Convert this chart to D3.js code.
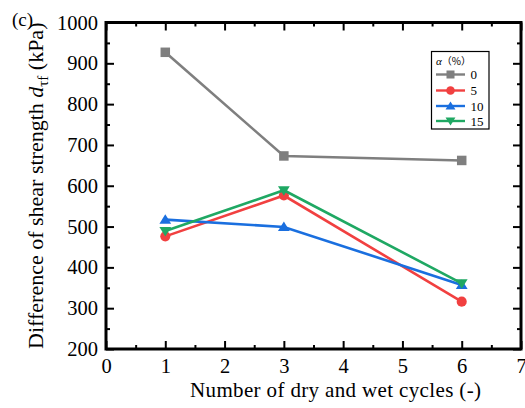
<!DOCTYPE html>
<html>
<head>
<meta charset="utf-8">
<script src="https://cdn.jsdelivr.net/npm/d3@7"></script>
<style>
  html, body { margin: 0; padding: 0; background: #fff; }
  svg text { font-family: 'Liberation Serif', 'Times New Roman', serif; }
</style>
</head>
<body>
<svg id="chart" width="525" height="408"></svg>
<script>
// Dry-wet cycle counts and shear strength differences (kPa) for each alpha content
const cycles = [1, 3, 6];
const seriesNames = ["0", "5", "10", "15"];
const alpha0 = [927, 673, 662];
const alpha5 = [476, 576, 316];
const alpha10 = [517, 499, 357];
const alpha15 = [489, 589, 361];
const xTicks = [0, 1, 2, 3, 4, 5, 6, 7];
const yTicks = [200, 300, 400, 500, 600, 700, 800, 900, 1000];

const colors = ["#7f7f7f", "#f14040", "#1a6fdf", "#1fa863"];
const symbols = ["square", "circle", "triangleUp", "triangleDown"];
const seriesValues = [alpha0, alpha5, alpha10, alpha15];

const svg = d3.select("#chart");
const plotL = 106, plotR = 521, plotT = 22.5, plotB = 349;

const x = d3.scaleLinear().domain([0, 7]).range([plotL, plotR]);
const y = d3.scaleLinear().domain([200, 1000]).range([plotB, plotT]);

const minorX = d3.range(0.5, 7, 1);
const minorY = d3.range(250, 1000, 100);

// Axes: labelled left/bottom, plain mirrored top/right, all ticks pointing inward
function styleAxis(g) {
  g.attr("font-family", null);
  g.selectAll("path.domain").remove();
  g.selectAll(".tick line").attr("stroke", "#000").attr("stroke-width", 2);
  g.selectAll(".tick text").attr("fill", "#000").attr("font-size", 20.5);
}

svg.append("g").attr("transform", `translate(0,${plotB})`)
  .call(d3.axisBottom(x).tickValues(xTicks).tickFormat(d3.format("d")).tickSizeInner(-8).tickPadding(9).tickSizeOuter(0))
  .call(styleAxis);
svg.append("g").attr("transform", `translate(0,${plotB})`)
  .call(d3.axisBottom(x).tickValues(minorX).tickFormat("").tickSizeInner(-4).tickSizeOuter(0))
  .call(styleAxis);
svg.append("g").attr("transform", `translate(${plotL},0)`)
  .call(d3.axisLeft(y).tickValues(yTicks).tickFormat(d3.format("d")).tickSizeInner(-8).tickPadding(8).tickSizeOuter(0))
  .call(styleAxis);
svg.append("g").attr("transform", `translate(${plotL},0)`)
  .call(d3.axisLeft(y).tickValues(minorY).tickFormat("").tickSizeInner(-4).tickSizeOuter(0))
  .call(styleAxis);
svg.append("g").attr("transform", `translate(0,${plotT})`)
  .call(d3.axisTop(x).tickValues(xTicks).tickFormat("").tickSizeInner(-8).tickSizeOuter(0))
  .call(styleAxis);
svg.append("g").attr("transform", `translate(0,${plotT})`)
  .call(d3.axisTop(x).tickValues(minorX).tickFormat("").tickSizeInner(-4).tickSizeOuter(0))
  .call(styleAxis);
svg.append("g").attr("transform", `translate(${plotR},0)`)
  .call(d3.axisRight(y).tickValues(yTicks).tickFormat("").tickSizeInner(-8).tickSizeOuter(0))
  .call(styleAxis);
svg.append("g").attr("transform", `translate(${plotR},0)`)
  .call(d3.axisRight(y).tickValues(minorY).tickFormat("").tickSizeInner(-4).tickSizeOuter(0))
  .call(styleAxis);

// Frame
svg.append("rect").attr("x", plotL).attr("y", plotT)
  .attr("width", plotR - plotL).attr("height", plotB - plotT)
  .attr("fill", "none").attr("stroke", "#000").attr("stroke-width", 3);

// Marker shapes
function marker(sel, kind, size, color) {
  if (kind === "square") {
    sel.append("rect").attr("x", -size / 2).attr("y", -size / 2)
      .attr("width", size).attr("height", size).attr("fill", color);
  } else if (kind === "circle") {
    sel.append("circle").attr("r", size / 2 + 0.3).attr("fill", color);
  } else if (kind === "triangleUp") {
    const h = size * 0.95, w = size * 0.62;
    sel.append("path").attr("d", `M0,${-h * 0.6}L${w},${h * 0.45}L${-w},${h * 0.45}Z`).attr("fill", color);
  } else {
    const h = size * 0.95, w = size * 0.62;
    sel.append("path").attr("d", `M0,${h * 0.6}L${w},${-h * 0.45}L${-w},${-h * 0.45}Z`).attr("fill", color);
  }
}

const line = d3.line().x(d => x(d[0])).y(d => y(d[1]));

seriesValues.forEach((vals, i) => {
  const pts = cycles.map((c, j) => [c, vals[j]]);
  svg.append("path").datum(pts).attr("d", line)
    .attr("fill", "none").attr("stroke", colors[i]).attr("stroke-width", 2.6);
  pts.forEach(p => {
    const g = svg.append("g").attr("transform", `translate(${x(p[0])},${y(p[1])})`);
    marker(g, symbols[i], 9.5, colors[i]);
  });
});

// Legend
const lg = svg.append("g");
lg.append("rect").attr("x", 431.5).attr("y", 51.5).attr("width", 57.5).attr("height", 77.5)
  .attr("fill", "#fff").attr("stroke", "#000").attr("stroke-width", 1.2);
const title = lg.append("text").attr("x", 436).attr("y", 65).attr("font-size", 11);
title.append("tspan").attr("font-style", "italic").text("α");
title.append("tspan").style("font-family", "'Noto Sans CJK SC', sans-serif").attr("font-size", 10).text("（%）");
const rowY = [74.5, 90.5, 106, 121];
seriesNames.forEach((name, i) => {
  lg.append("line").attr("x1", 436).attr("x2", 465).attr("y1", rowY[i]).attr("y2", rowY[i])
    .attr("stroke", colors[i]).attr("stroke-width", 2.4);
  const g = lg.append("g").attr("transform", `translate(450.5,${rowY[i]})`);
  marker(g, symbols[i], 8, colors[i]);
  lg.append("text").attr("x", 470.5).attr("y", rowY[i] + 4.5).attr("font-size", 13).text(name);
});

// Axis titles and panel tag
svg.append("text").attr("x", 190).attr("y", 397)
  .attr("font-size", 21).attr("textLength", 291).attr("lengthAdjust", "spacing")
  .text("Number of dry and wet cycles (-)");

const yl = svg.append("text")
  .attr("transform", `translate(43,${(plotT + plotB) / 2}) rotate(-90)`)
  .attr("text-anchor", "middle").attr("font-size", 22);
yl.append("tspan").text("Difference of shear strength ");
yl.append("tspan").attr("font-style", "italic").text("d");
yl.append("tspan").attr("font-size", 15).attr("dy", 5).text("τf");
yl.append("tspan").attr("dy", -5).text(" (kPa)");

svg.append("text").attr("x", 12).attr("y", 26).attr("font-size", 19).text("(c)");
</script>
</body>
</html>
